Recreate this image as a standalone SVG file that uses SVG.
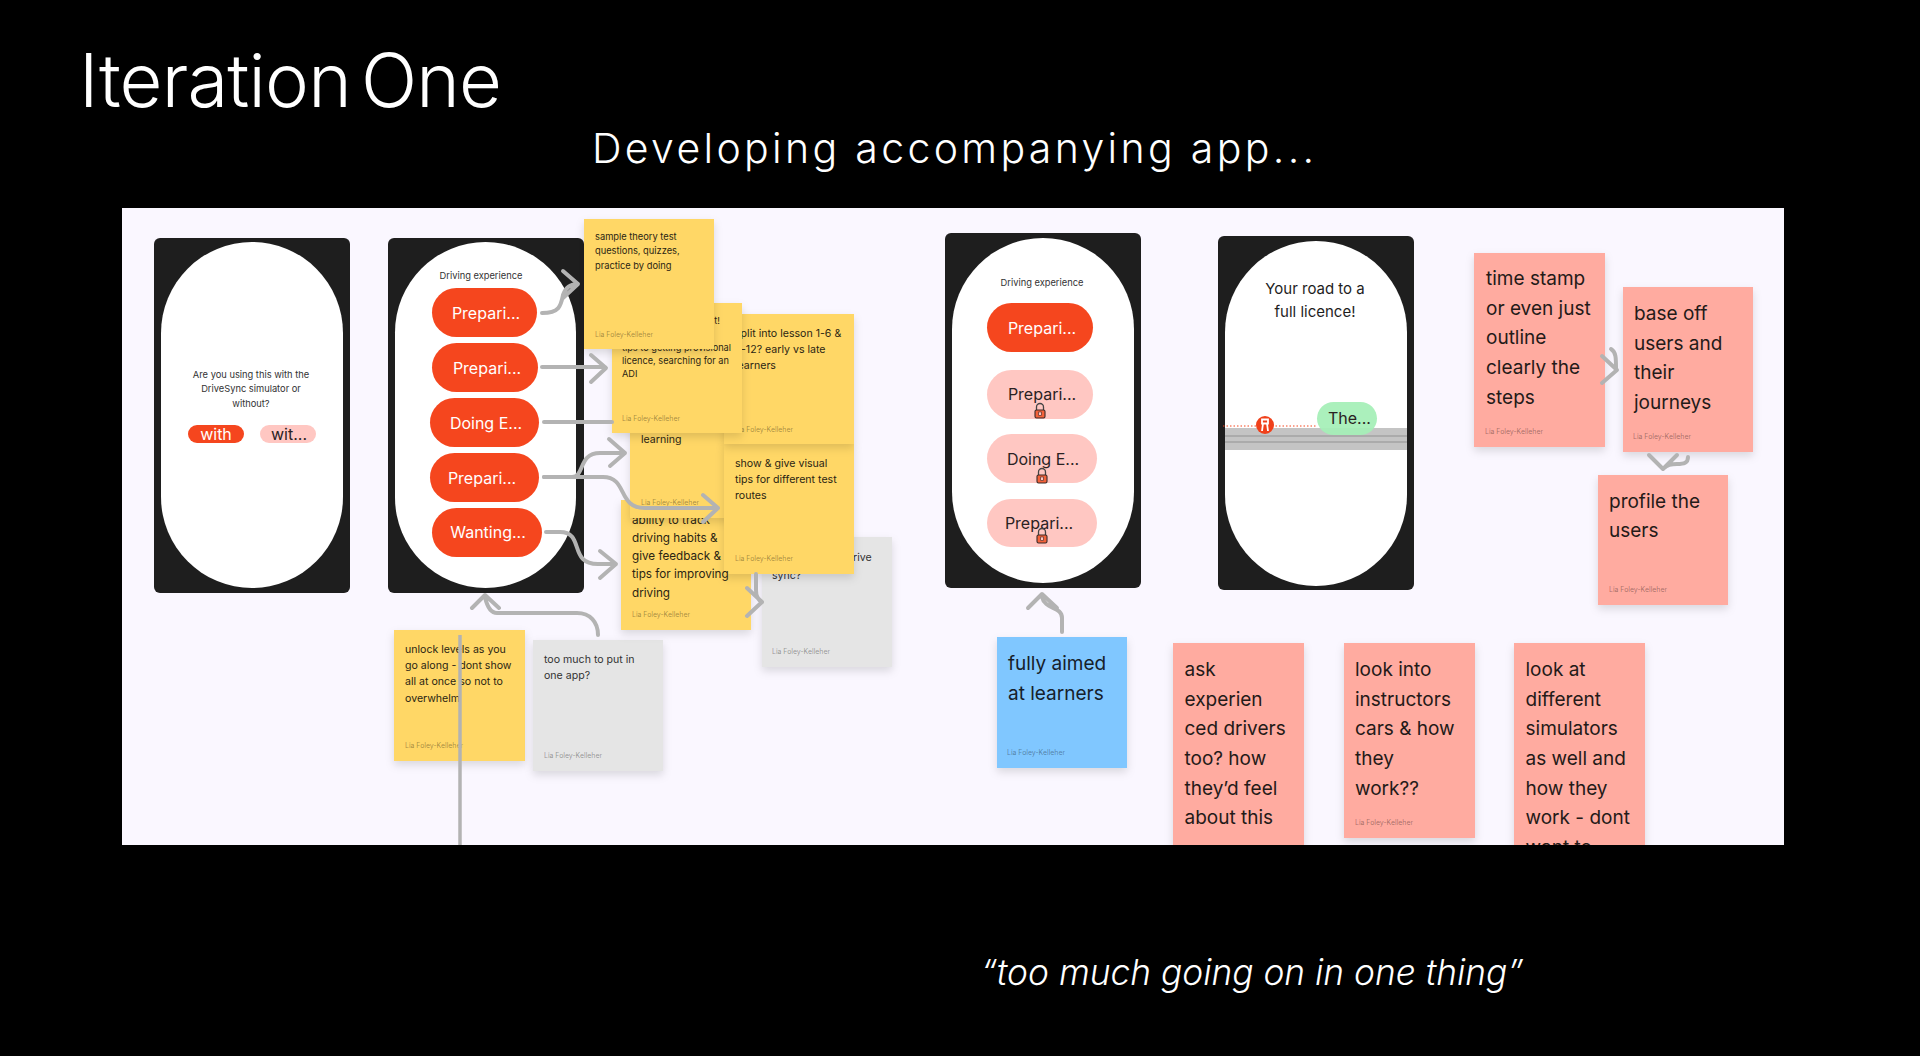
<svg xmlns="http://www.w3.org/2000/svg" width="1920" height="1056" viewBox="0 0 1920 1056">
<style>
text{font-family:Inter,"Noto Sans","Liberation Sans",sans-serif;fill:#1e1e1e}
.phone{fill:#1e1e1e}
.screen{fill:#fff}
.on{fill:#f5461e}
.off{fill:#ffc7c2}
.w{fill:#fff;font-size:16px}
.d{fill:#2a2222;font-size:16px}
.m{text-anchor:middle}
.cap{font-size:9.3px;fill:#333}
.y{fill:#ffd766;filter:url(#sh)}
.g{fill:#e5e5e5;filter:url(#sh)}
.p{fill:#ffaba0;filter:url(#sh)}
.b{fill:#80c7ff;filter:url(#sh)}
.f{font-size:6.9px;fill:#000;fill-opacity:.38}
.t9{font-size:9.3px;fill:#2b2513}
.t8{font-size:9.2px;fill:#2b2513}
.t11{font-size:10.6px;fill:#2b2513}
.t12{font-size:11.7px;fill:#2b2513}
.gt{font-size:10.6px;fill:#333}
.t19{font-size:19px;fill:#241a18}
.t19b{font-size:19px;fill:#16202a}
.c{fill:none;stroke:#b3b3b3;stroke-width:4;stroke-linecap:round;stroke-linejoin:round}
</style>
<defs>
<filter id="sh" x="-15%" y="-15%" width="130%" height="135%"><feDropShadow dx="0" dy="4" stdDeviation="4" flood-color="#000" flood-opacity=".13"/></filter>
<clipPath id="canvasclip"><rect x="122" y="208" width="1662" height="637"/></clipPath>
<g id="lock"><path d="M-3.500-1v-3a3.500 3.500 0 0 1 7 0v3" fill="none" stroke="#444" stroke-width="1.300"/><rect x="-5" y="-1" width="10" height="8" rx="1.500" fill="#f4623a" stroke="#3a2a28" stroke-width="1.100"/><rect x="-1.300" y="1" width="2.600" height="3.400" fill="#ffc7c2" stroke="#3a2a28" stroke-width=".6"/></g>
</defs>
<rect width="1920" height="1056" fill="#000"/>
<text id="title" x="79" y="107" style="font-size:74px;font-weight:300;fill:#fff;letter-spacing:-.8px;word-spacing:-10px">Iteration One</text>
<text id="subtitle" x="592" y="163" style="font-size:41px;font-weight:300;fill:#fff;letter-spacing:3.330px">Developing accompanying app...</text>
<text id="quote" x="981" y="985" style="font-size:35.300px;font-weight:300;font-style:italic;fill:#fff">“too much going on in one thing”</text>
<g id="canvas" clip-path="url(#canvasclip)">
<rect x="122" y="208" width="1662" height="637" fill="#faf7ff"/>
<g id="phone-1">
<rect class="phone" x="154" y="238" width="196" height="355" rx="6"/>
<rect class="screen" x="161" y="242" width="182" height="346" rx="91"/>
<text class="cap m" x="251" y="378">Are you using this with the</text>
<text class="cap m" x="251" y="392">DriveSync simulator or</text>
<text class="cap m" x="251" y="407">without?</text>
<rect class="on" x="188" y="425" width="56" height="18" rx="9"/>
<text class="w m" x="216" y="440">with</text>
<rect class="off" x="260" y="425" width="56" height="18" rx="9"/>
<text class="d m" x="289" y="440">wit...</text>
</g>
<g id="phone-2">
<rect class="phone" x="388" y="238" width="196" height="355" rx="6"/>
<rect class="screen" x="395" y="242" width="181" height="346" rx="90.500"/>
<text class="cap m" x="481" y="279">Driving experience</text>
<rect class="on" x="432" y="288" width="105" height="49" rx="24.500"/>
<text class="w m" x="486" y="319">Prepari...</text>
<rect class="on" x="432" y="343" width="106" height="49" rx="24.500"/>
<text class="w m" x="487" y="373.500">Prepari...</text>
<rect class="on" x="430" y="398" width="109" height="49" rx="24.500"/>
<text class="w m" x="486" y="428.500">Doing E...</text>
<rect class="on" x="430" y="453" width="109" height="49" rx="24.500"/>
<text class="w m" x="482" y="483.500">Prepari...</text>
<rect class="on" x="432" y="508" width="110" height="49" rx="24.500"/>
<text class="w m" x="488" y="538">Wanting...</text>
</g>
<g id="note-rive"><rect class="g" x="762" y="537" width="130" height="130"/>
<text class="gt" x="853" y="561">rive</text><text class="gt" x="772" y="579">sync?</text><text class="f" x="772" y="654">Lia Foley-Kelleher</text></g>
<g id="note-unlock"><rect class="y" x="394" y="630" width="131" height="131"/>
<text class="t11" x="405" y="653">unlock levels as you</text><text class="t11" x="405" y="669">go along - dont show</text><text class="t11" x="405" y="685">all at once so not to</text><text class="t11" x="405" y="702">overwhelm</text><text class="f" x="405" y="748">Lia Foley-Kelleher</text></g>
<g id="note-too-much"><rect class="g" x="533" y="640" width="130" height="131"/>
<text class="gt" x="544" y="663">too much to put in</text><text class="gt" x="544" y="679">one app?</text><text class="f" x="544" y="758">Lia Foley-Kelleher</text></g>
<g id="note-track"><rect class="y" x="621" y="500" width="130" height="130"/>
<text class="t12" x="632" y="524">ability to track</text><text class="t12" x="632" y="542">driving habits &amp;</text><text class="t12" x="632" y="560">give feedback &amp;</text><text class="t12" x="632" y="597">driving</text><text class="f" x="632" y="617">Lia Foley-Kelleher</text></g>
<g id="note-learning"><rect class="y" x="630" y="388" width="130" height="130"/>
<text class="t11" x="641" y="443">learning</text><text class="f" x="641" y="505">Lia Foley-Kelleher</text></g>
<g id="note-routes"><rect class="y" x="724" y="444" width="130" height="130"/>
<text class="t11" x="735" y="467">show &amp; give visual</text><text class="t11" x="735" y="483">tips for different test</text><text class="t11" x="735" y="499">routes</text><text class="f" x="735" y="561">Lia Foley-Kelleher</text></g>
<g id="note-track-line"><text class="t12" x="632" y="578">tips for improving</text></g>
<g id="note-split"><rect class="y" x="724" y="314" width="130" height="130"/>
<text class="t11" x="735" y="337">split into lesson 1-6 &amp;</text><text class="t11" x="735" y="353">7-12? early vs late</text><text class="t11" x="735" y="369">learners</text><text class="f" x="735" y="432">Lia Foley-Kelleher</text></g>
<g id="note-licence"><rect class="y" x="612" y="303" width="130" height="130"/>
<text class="t8" x="720" y="324" text-anchor="end">t!</text><text class="t8" x="622" y="351">tips to getting provisional</text><text class="t8" x="622" y="364">licence, searching for an</text><text class="t8" x="622" y="377">ADI</text><text class="f" x="622" y="421">Lia Foley-Kelleher</text></g>
<g id="note-theory"><rect class="y" x="584" y="219" width="130" height="130"/>
<text class="t9" x="595" y="240">sample theory test</text><text class="t9" x="595" y="254">questions, quizzes,</text><text class="t9" x="595" y="269">practice by doing</text><text class="f" x="595" y="337">Lia Foley-Kelleher</text></g>
<g id="phone-3">
<rect class="phone" x="945" y="233" width="196" height="355" rx="6"/>
<rect class="screen" x="952" y="238" width="182" height="345" rx="91"/>
<text class="cap m" x="1042" y="286">Driving experience</text>
<rect class="on" x="987" y="303" width="106" height="49" rx="24.500"/>
<text class="w m" x="1042" y="333.500">Prepari...</text>
<rect class="off" x="987" y="370" width="106" height="49" rx="24.500"/>
<text class="d m" x="1042" y="400">Prepari...</text>
<rect class="off" x="987" y="434" width="110" height="49" rx="24.500"/>
<text class="d m" x="1043" y="465">Doing E...</text>
<rect class="off" x="987" y="499" width="110" height="48" rx="24"/>
<text class="d m" x="1039" y="529">Prepari...</text>
<use href="#lock" x="1040" y="411"/><use href="#lock" x="1042" y="476"/><use href="#lock" x="1042" y="536"/>
</g>
<g id="phone-4">
<rect class="phone" x="1218" y="236" width="196" height="354" rx="6"/>
<rect class="screen" x="1225" y="241" width="182" height="345" rx="91"/>
<text class="m" style="font-size:15px" x="1315" y="294">Your road to a</text>
<text class="m" style="font-size:15px" x="1315" y="317">full licence!</text>
<rect x="1225" y="428" width="182" height="22" fill="#c4c4c4"/>
<path d="M1225 436h182M1225 442h182" stroke="#a2a2a2" stroke-width="1.600"/>
<path d="M1223 426h94" stroke="#f5461e" stroke-width="1" stroke-dasharray="1.500 2"/>
<circle cx="1265" cy="425" r="9" fill="#f0401a"/>
<path d="M1262 423.500v-4h6v4zM1262 431l1-7.500M1268 431l-1-7.500" fill="none" stroke="#fff" stroke-width="1.800"/>
<rect x="1317" y="402" width="60" height="33" rx="16.500" fill="#a4efb6" fill-opacity=".92"/>
<text class="d" x="1328" y="424">The...</text>
</g>
<g id="note-steps"><rect class="p" x="1474" y="253" width="131" height="194"/>
<text class="t19" x="1486" y="285">time stamp</text><text class="t19" x="1486" y="315">or even just</text><text class="t19" x="1486" y="344">outline</text><text class="t19" x="1486" y="374">clearly the</text><text class="t19" x="1486" y="404">steps</text><text class="f" x="1485" y="434">Lia Foley-Kelleher</text></g>
<g id="note-journeys"><rect class="p" x="1623" y="287" width="130" height="165"/>
<text class="t19" x="1634" y="320">base off</text><text class="t19" x="1634" y="350">users and</text><text class="t19" x="1634" y="379">their</text><text class="t19" x="1634" y="409">journeys</text><text class="f" x="1633" y="439">Lia Foley-Kelleher</text></g>
<g id="note-profile"><rect class="p" x="1598" y="475" width="130" height="130"/>
<text class="t19" x="1609" y="508">profile the</text><text class="t19" x="1609" y="537">users</text><text class="f" x="1609" y="592">Lia Foley-Kelleher</text></g>
<g id="note-learners"><rect class="b" x="997" y="637" width="130" height="131"/>
<text class="t19b" x="1008" y="670">fully aimed</text><text class="t19b" x="1008" y="700">at learners</text><text class="f" x="1007" y="755">Lia Foley-Kelleher</text></g>
<g id="note-experienced"><rect class="p" x="1173" y="643" width="131" height="220"/>
<text class="t19" x="1184.500" y="676">ask</text><text class="t19" x="1184.500" y="706">experien</text><text class="t19" x="1184.500" y="735">ced drivers</text><text class="t19" x="1184.500" y="765">too? how</text><text class="t19" x="1184.500" y="795">they’d feel</text><text class="t19" x="1184.500" y="824">about this</text></g>
<g id="note-instructors"><rect class="p" x="1344" y="643" width="131" height="195"/>
<text class="t19" x="1355" y="676">look into</text><text class="t19" x="1355" y="706">instructors</text><text class="t19" x="1355" y="735">cars &amp; how</text><text class="t19" x="1355" y="765">they</text><text class="t19" x="1355" y="795">work??</text><text class="f" x="1355" y="825">Lia Foley-Kelleher</text></g>
<g id="note-simulators"><rect class="p" x="1514" y="643" width="131" height="220"/>
<text class="t19" x="1525.500" y="676">look at</text><text class="t19" x="1525.500" y="706">different</text><text class="t19" x="1525.500" y="735">simulators</text><text class="t19" x="1525.500" y="765">as well and</text><text class="t19" x="1525.500" y="795">how they</text><text class="t19" x="1525.500" y="824">work - dont</text><text class="t19" x="1525.500" y="854">want to</text></g>
<g id="connectors">
<path class="c" d="M542 313C560 313 561 305 563 295C566 286 572 284 578 284M563 271L578 284L563 298"/>
<path class="c" d="M542 367H605M591 355L606 368L591 382"/>
<path class="c" d="M544 422H612"/>
<path class="c" d="M544 477H572C585 477 578 453 600 453H625M609 439L625 453L610 466"/>
<path class="c" d="M544 477H603C628 477 617 508 645 508H718M703 495L718 508L703 522"/>
<path class="c" d="M546 532H560C585 532 568 564 598 564H615M600 551L616 564L600 578"/>
<path class="c" d="M756 574V590C756 596 758 600 762 602M747 588L762 602L747 616"/>
<path class="c" d="M598 635C598 622 590 613 577 613H497C490 613 487 606 485 597M472 608L485 595L499 608"/>
<path class="c" d="M460 635V845" style="stroke-width:3.500;stroke-linecap:butt"/>
<path class="c" d="M1062 632V618C1062 606 1045 610 1042 597M1028 608L1042 594L1057 608"/>
<path class="c" d="M1611 349C1616 352 1616 358 1616 368M1602 356L1617 370L1602 383"/>
<path class="c" d="M1688 457C1688 463 1684 464 1677 464C1670 464 1667 465 1664 468M1649 455L1663 469L1677 455"/>
</g>
</g>
</svg>
